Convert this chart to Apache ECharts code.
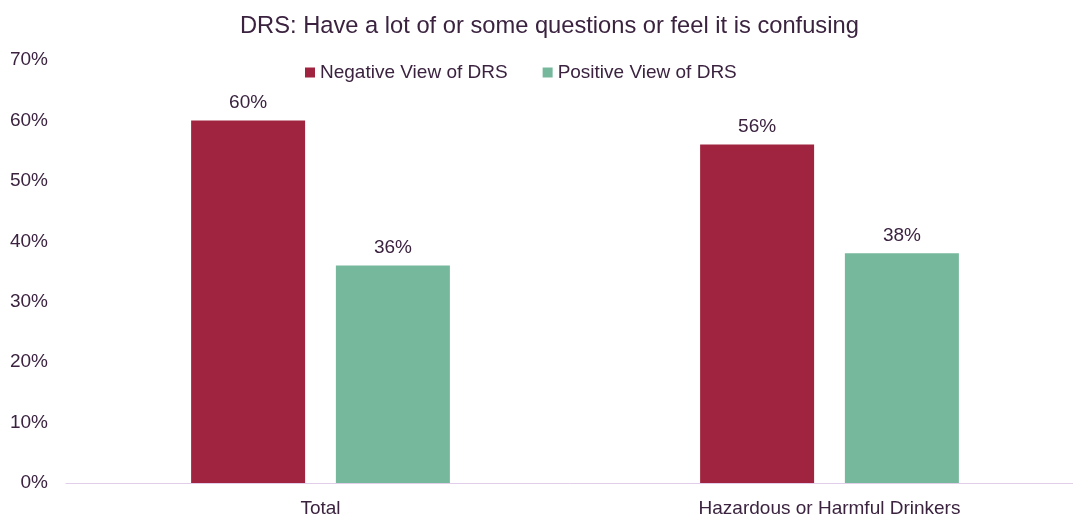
<!DOCTYPE html>
<html>
<head>
<meta charset="utf-8">
<script src="https://cdn.jsdelivr.net/npm/echarts@6/dist/echarts.min.js"></script>
<style>
  html, body { margin: 0; padding: 0; background: #ffffff; }
  #chart { width: 1073px; height: 516px; }
</style>
</head>
<body>
<div id="chart"></div>
<script>
// Share of respondents with questions about / confusion over DRS
const categories = ['Total', 'Hazardous or Harmful Drinkers'];
const negativeView = [60, 56];
const positiveView = [36, 38];
const yTicks = [0, 10, 20, 30, 40, 50, 60, 70];

const textColor = '#3B2340';
const fontFamily = '"Liberation Sans", Arial, sans-serif';

const chart = echarts.init(document.getElementById('chart'), null, { renderer: 'canvas' });

const labelStyle = {
  show: true,
  position: 'top',
  distance: 8,
  color: textColor,
  fontFamily: fontFamily,
  fontSize: 19,
  formatter: p => p.value + '%'
};

chart.setOption({
  animation: false,
  backgroundColor: '#ffffff',
  title: {
    text: 'DRS: Have a lot of or some questions or feel it is confusing',
    left: 235,
    top: 9,
    textStyle: { color: textColor, fontFamily: fontFamily, fontSize: 23.7, fontWeight: 'normal' }
  },
  legend: {
    top: 58,
    left: 300,
    itemWidth: 10,
    itemHeight: 10,
    itemGap: 35,
    icon: 'rect',
    textStyle: { color: textColor, fontFamily: fontFamily, fontSize: 19 },
    data: ['Negative View of DRS', 'Positive View of DRS']
  },
  grid: { left: 66, top: 60, right: -11, bottom: 33, outerBoundsMode: 'none', containLabel: false },
  xAxis: {
    type: 'category',
    data: categories,
    axisLine: { lineStyle: { color: '#E2CDEA', width: 1 } },
    axisTick: { show: false },
    axisLabel: { color: textColor, fontFamily: fontFamily, fontSize: 19, margin: 16 }
  },
  yAxis: {
    type: 'value',
    min: yTicks[0],
    max: yTicks[yTicks.length - 1],
    interval: 10,
    axisLine: { show: false },
    axisTick: { show: false },
    splitLine: { show: false },
    axisLabel: { color: textColor, fontFamily: fontFamily, fontSize: 19, margin: 18, formatter: v => v + '%' }
  },
  series: [
    {
      name: 'Negative View of DRS',
      type: 'bar',
      data: negativeView,
      barWidth: 114,
      barGap: '27%',
      itemStyle: { color: '#A0243F' },
      label: labelStyle
    },
    {
      name: 'Positive View of DRS',
      type: 'bar',
      data: positiveView,
      barWidth: 114,
      itemStyle: { color: '#76B89C' },
      label: labelStyle
    }
  ]
});
</script>
</body>
</html>
